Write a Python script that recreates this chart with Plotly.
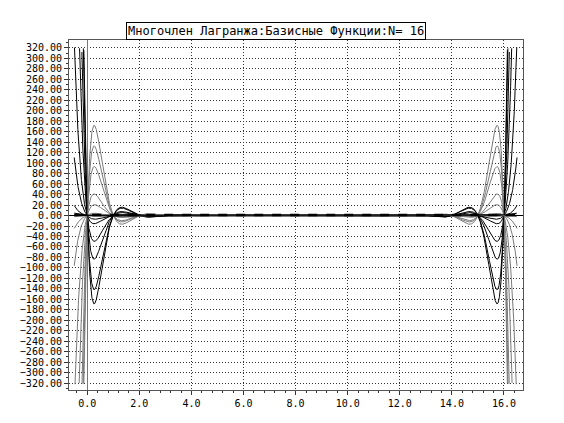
import numpy as np
import plotly.graph_objects as go

# Interpolation nodes (N = 16 -> 17 equispaced nodes)
nodes = [0, 1, 2, 3, 4, 5, 6, 7, 8, 9, 10, 11, 12, 13, 14, 15, 16]
x_start, x_end, x_step = -0.5, 16.5, 0.005
clip_limit = 322
title_text = "Многочлен Лагранжа:Базисные Функции:N= 16"
curve_colors = ["#000000", "#7a7a7a"]

x = np.arange(x_start, x_end + x_step / 2, x_step)
xn = np.array(nodes, dtype=float)

fig = go.Figure()
total = np.zeros_like(x)
for k, xk in enumerate(xn):
    y = np.ones_like(x)
    for j, xj in enumerate(xn):
        if j != k:
            y *= (x - xj) / (xk - xj)
    total += y
    yc = np.where(np.abs(y) > clip_limit, np.nan, y)
    fig.add_trace(go.Scatter(x=x, y=yc, mode="lines",
                             line=dict(color=curve_colors[k % 2], width=1),
                             showlegend=False, hoverinfo="skip"))

fig.add_trace(go.Scatter(x=x, y=np.where(np.abs(total) > clip_limit, np.nan, total),
                         mode="lines", line=dict(color="black", width=2.5, dash="dash"),
                         showlegend=False, hoverinfo="skip"))

tickfont = dict(family="DejaVu Sans Mono", size=10, color="black")
grid_dash = "1px,2px"
fig.update_layout(
    width=564, height=423,
    margin=dict(l=52, r=49, t=32, b=41),
    paper_bgcolor="white", plot_bgcolor="white",
    xaxis=dict(range=[-0.7, 16.73], tick0=0, dtick=2, tickformat=".1f",
               showgrid=True, gridcolor="#333", griddash=grid_dash, gridwidth=1,
               zeroline=True, zerolinecolor="#777", zerolinewidth=1,
               showline=True, linecolor="#555", linewidth=1, mirror=True,
               ticks="outside", ticklen=4, tickcolor="#333",
               minor=dict(dtick=0.4, tick0=0, ticks="outside", ticklen=2, tickcolor="#333", showgrid=False),
               tickfont=tickfont),
    yaxis=dict(range=[-333, 335], tick0=0, dtick=20, tickformat=".2f",
               showgrid=True, gridcolor="#333", griddash=grid_dash, gridwidth=1,
               zeroline=True, zerolinecolor="black", zerolinewidth=1,
               showline=True, linecolor="#555", linewidth=1, mirror=True,
               ticks="outside", ticklen=4, tickcolor="#333",
               minor=dict(dtick=10, tick0=0, ticks="outside", ticklen=2, tickcolor="#333", showgrid=False),
               tickfont=tickfont),
    annotations=[dict(text=title_text, xref="paper", yref="paper", x=0.455, y=1.0,
                      xanchor="center", yanchor="bottom", showarrow=False,
                      font=dict(family="DejaVu Sans Mono", size=12, color="black"),
                      bordercolor="black", borderwidth=1, borderpad=1, bgcolor="white")],
)

fig.write_html("out.html")
